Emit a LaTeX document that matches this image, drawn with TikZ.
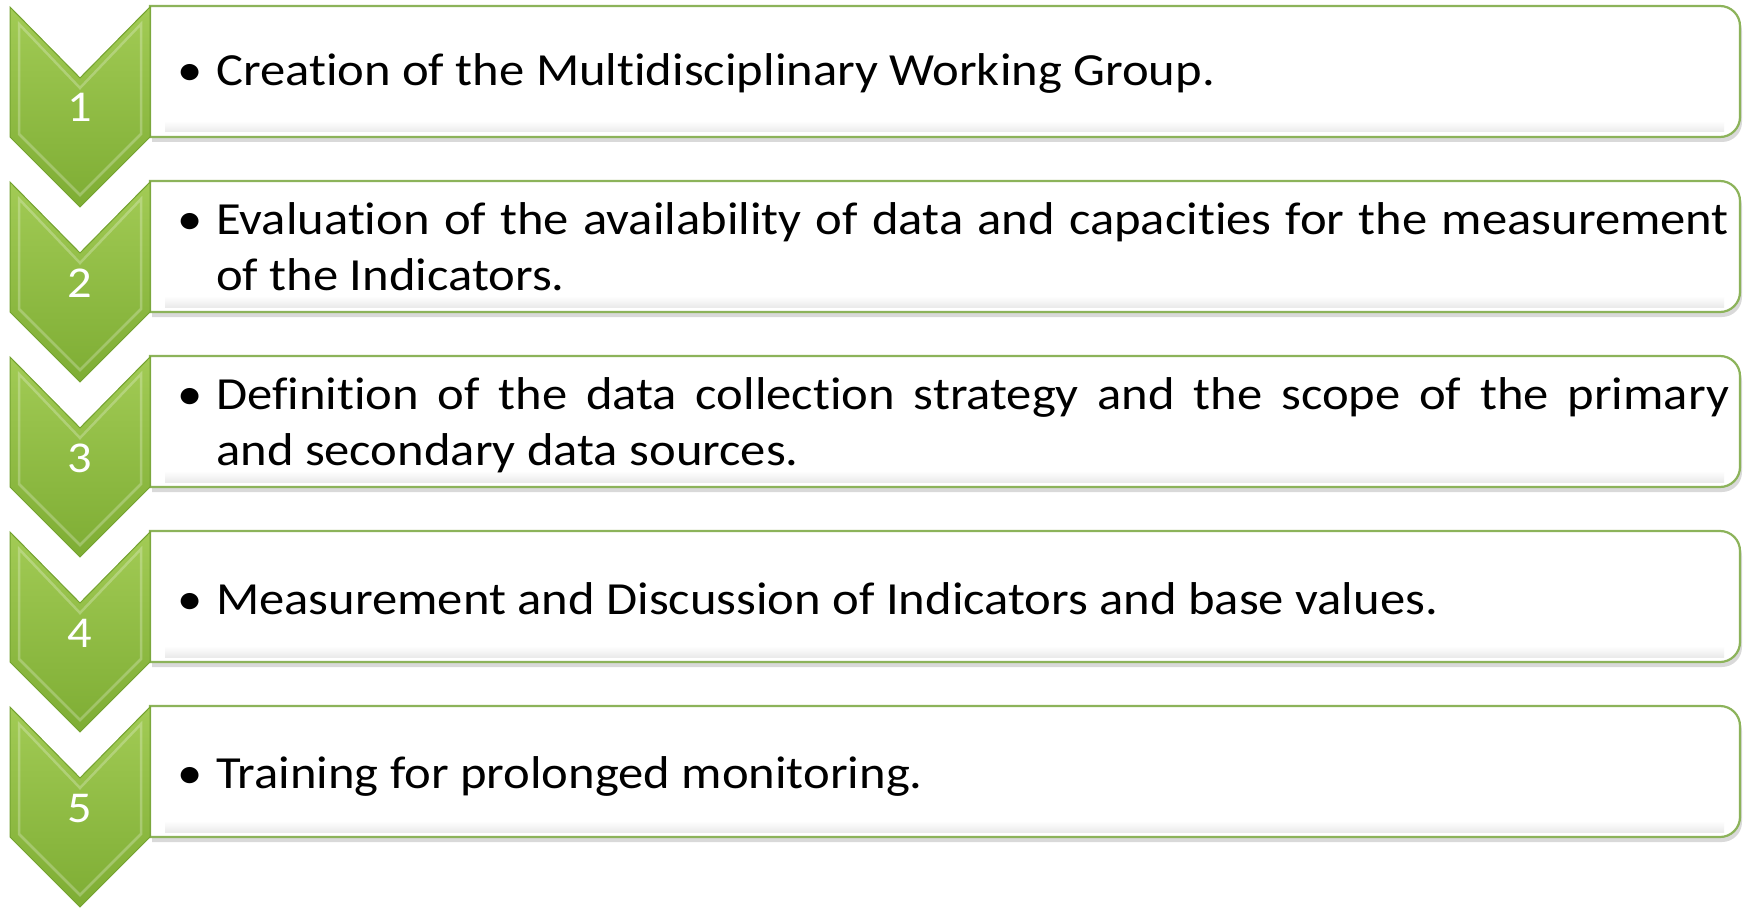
\documentclass[tikz,border=0pt]{standalone}
\usepackage{fontspec}
\setmainfont[FakeStretch=1.10,Ligatures=NoCommon]{Carlito}
\usetikzlibrary{shadows}
\hyphenpenalty=10000
\exhyphenpenalty=10000
\definecolor{chevtop}{HTML}{A2CB55}
\definecolor{chevbot}{HTML}{7EAD34}
\definecolor{chevedge}{HTML}{73A22F}
\definecolor{boxedge}{HTML}{8CB35A}
\newcommand{\itembullet}{\noindent\llap{•\hspace{14pt}}\rule{0pt}{40pt}}
\begin{document}
\begin{tikzpicture}[x=1pt,y=-1pt,
  chev/.style={top color=chevtop,bottom color=chevbot,draw=chevedge,line width=1pt,line join=miter},
  bevel/.style={draw=white,opacity=0.25,line width=2.5pt,line join=miter},
  stepbox/.style={fill=white,draw=boxedge,line width=2.2pt,
    drop shadow={opacity=0.3,shadow xshift=2pt,shadow yshift=-5pt,fill=gray}},
  band/.style={top color=white,bottom color=black!8,draw=none},
  num/.style={font=\fontsize{44}{50}\selectfont,text=white,inner sep=0pt,anchor=base},
  txt/.style={font=\fontsize{46}{56}\selectfont,text width=1513pt,align=justify,inner sep=0pt,anchor=north west}]
\useasboundingbox (0,0) rectangle (1747,909);
% boxes
\foreach \i in {0,...,4}{
  \pgfmathsetmacro{\tp}{6+175*\i}
  \pgfmathsetmacro{\bt}{137+175*\i}
  \path[stepbox] (150,\tp) -- (1720,\tp) arc[start angle=90,end angle=0,radius=20pt]
    -- (1740,\bt-20) arc[start angle=0,end angle=-90,radius=20pt] -- (150,\bt) -- cycle;
  \path[band] (165,\bt-16) rectangle (1724,\bt-5);
}
% chevrons
\foreach \i in {0,...,4}{
  \pgfmathsetmacro{\T}{7+175*\i}
  \path[chev] (10,\T) -- (80,\T+71) -- (150,\T) -- (150,\T+130) -- (80,\T+200) -- (10,\T+130) -- cycle;
  \path[bevel] (19,\T+17) -- (80,\T+81) -- (141,\T+17) -- (141,\T+127) -- (80,\T+188) -- (19,\T+127) -- cycle;
}
% numbers
\node[num] (n1) at (80,122) {1};
\node[num] (n2) at (80,297) {2};
\node[num] (n3) at (80,472) {3};
\node[num] (n4) at (80,647) {4};
\node[num] (n5) at (80,822) {5};
% texts
\node[txt] (t1) at (216,45) {\itembullet Creation of the Multidisciplinary Working Group.};
\node[txt] (t2) at (216,194) {\itembullet Evaluation of the availability of data and capacities for the measurement\linebreak of the Indicators.};
\node[txt] (t3) at (216,369) {\itembullet Definition of the data collection strategy and the scope of the primary\linebreak and secondary data sources.};
\node[txt] (t4) at (216,574) {\itembullet Measurement and Discussion of Indicators and base values.};
\node[txt] (t5) at (216,748) {\itembullet Training for prolonged monitoring.};
\end{tikzpicture}
\end{document}
